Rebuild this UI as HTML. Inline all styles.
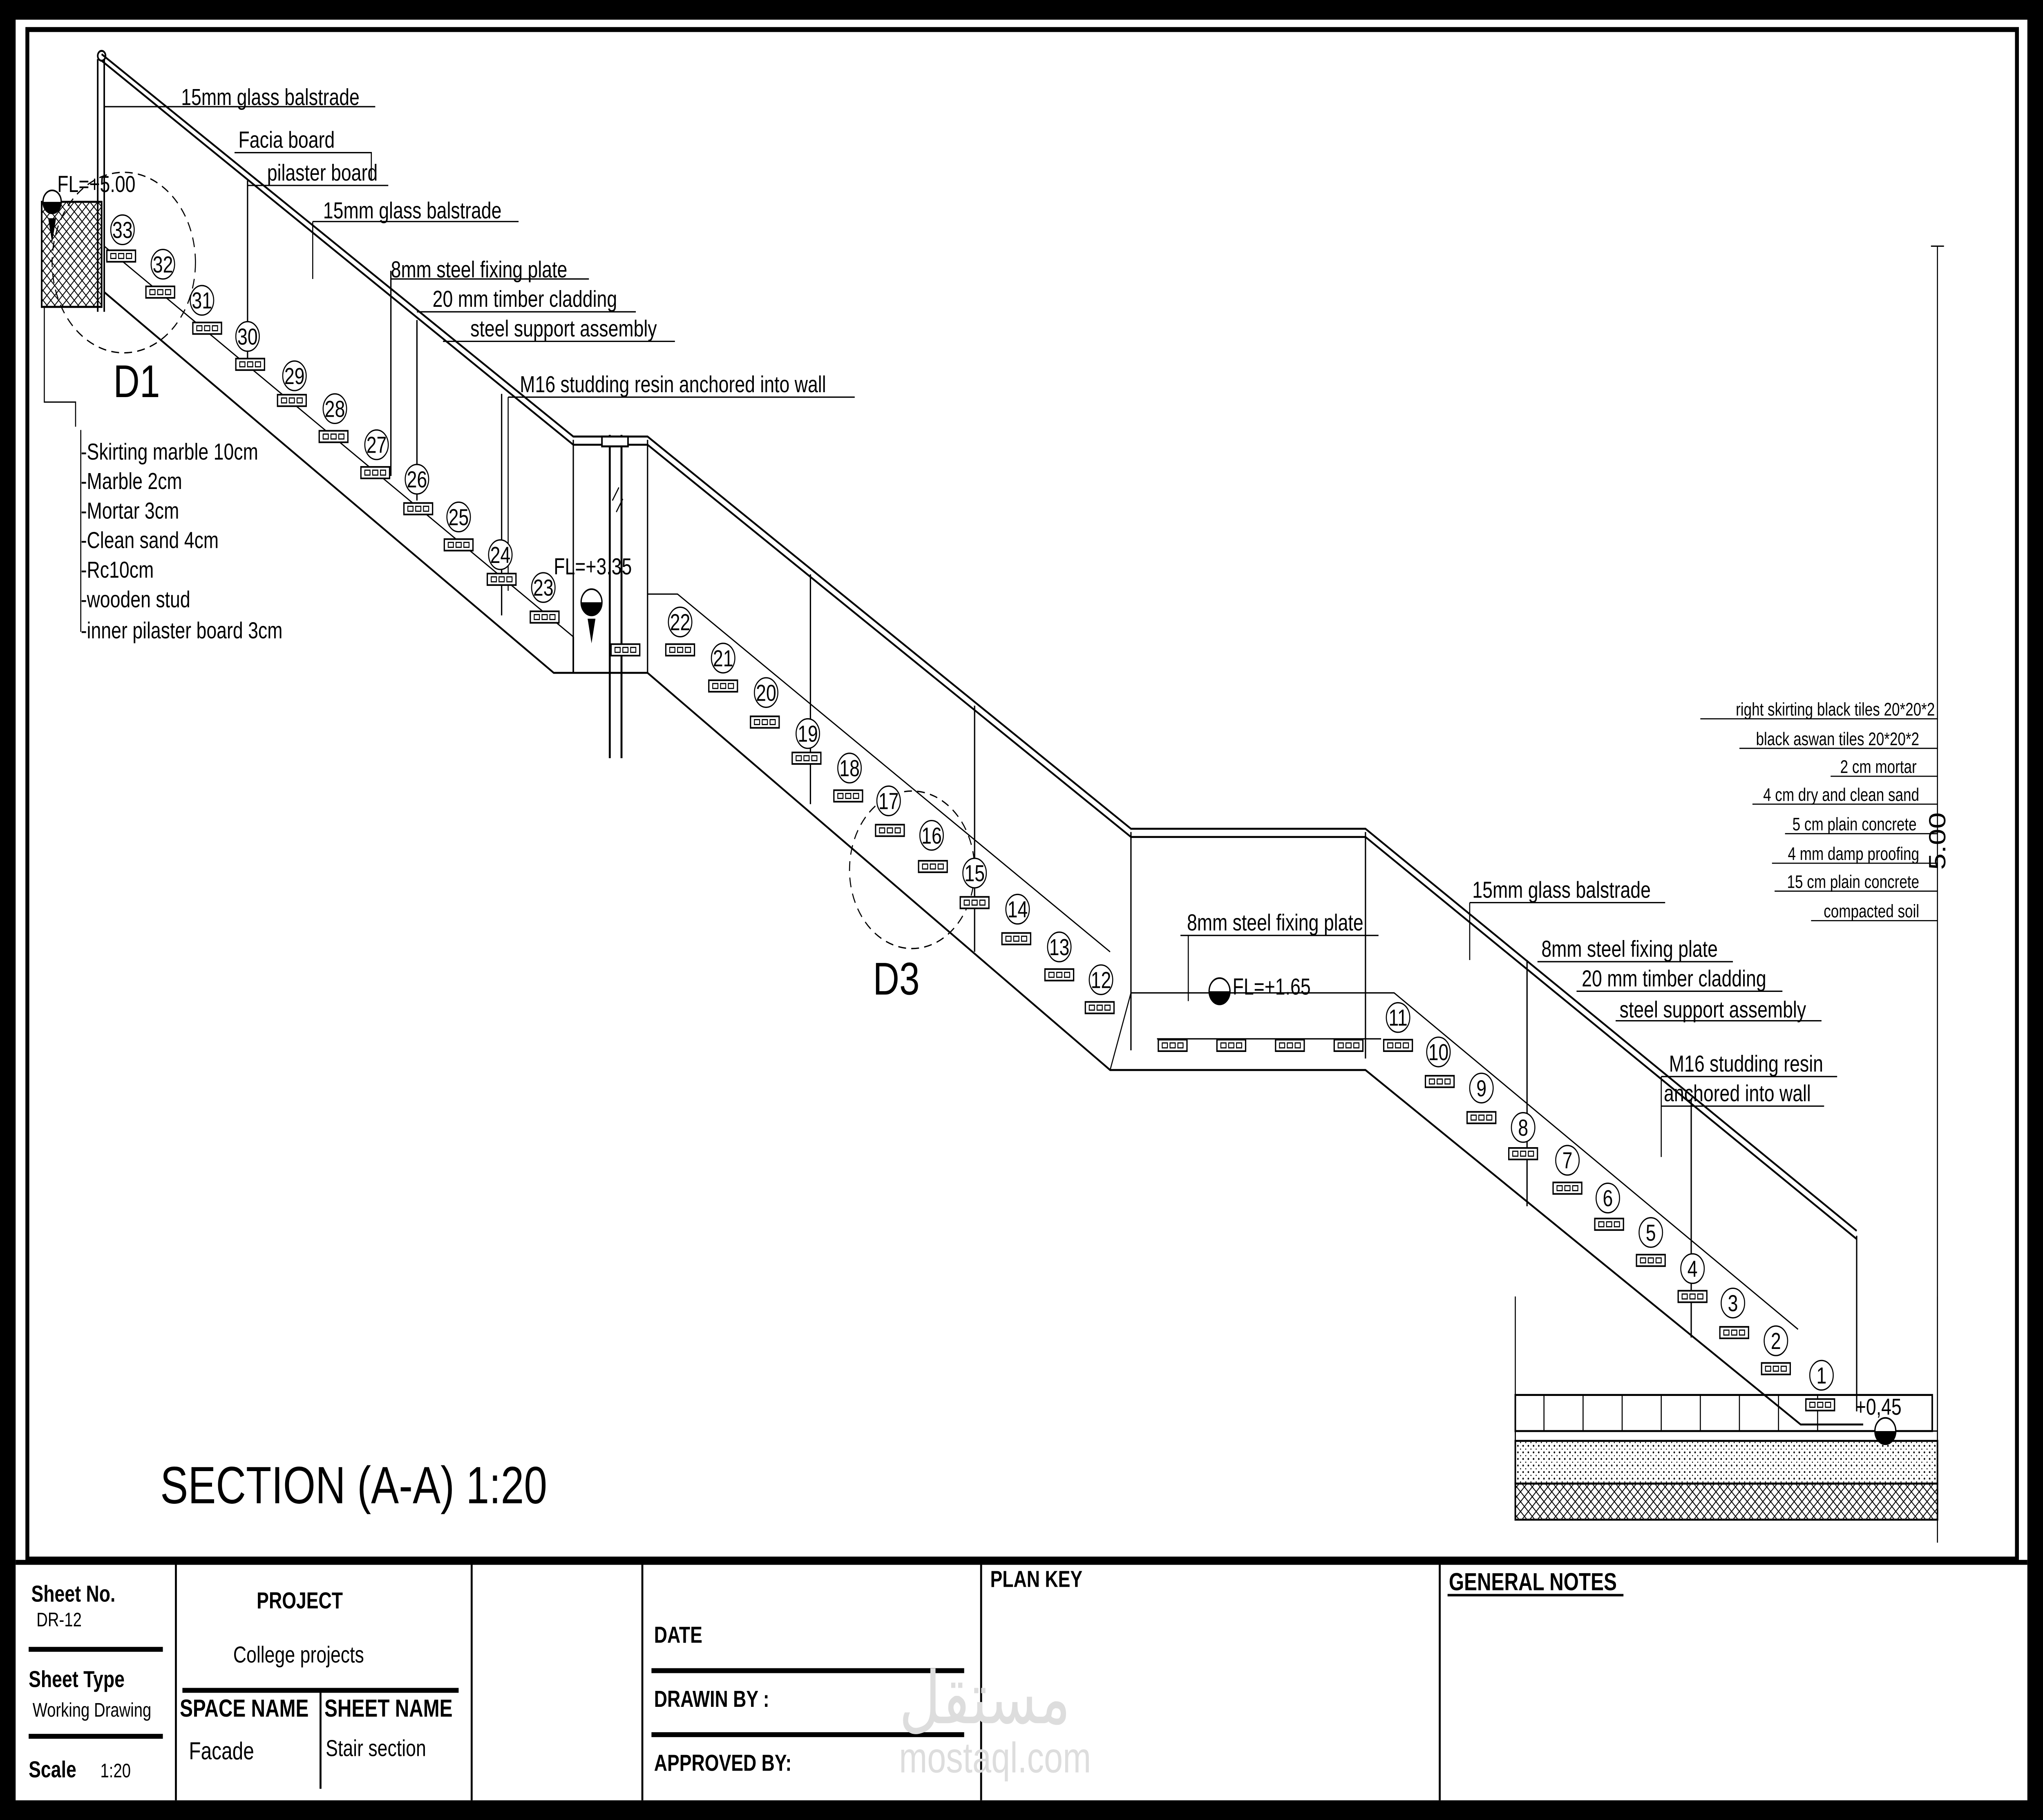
<!DOCTYPE html>
<html><head><meta charset="utf-8"><style>
html,body{margin:0;padding:0;background:#000;width:100%;height:100%;overflow:hidden}
svg{display:block;width:100vw;height:100vh}
text{font-family:"Liberation Sans",Arial,sans-serif;fill:#000}
</style></head><body>
<svg viewBox="0 0 1568 1109" preserveAspectRatio="none" xmlns="http://www.w3.org/2000/svg">
<defs>
<g id="pl"><rect x="-11" y="-3.5" width="22" height="7" fill="#fff" stroke="#000" stroke-width="1"/><rect x="-8" y="-1.5" width="4" height="3" fill="none" stroke="#000" stroke-width=".7"/><rect x="-2" y="-1.5" width="4" height="3" fill="none" stroke="#000" stroke-width=".7"/><rect x="4" y="-1.5" width="4" height="3" fill="none" stroke="#000" stroke-width=".7"/></g>
<pattern id="hatch" width="6" height="6" patternUnits="userSpaceOnUse"><path d="M0 6L6 0M0 0L6 6" stroke="#000" stroke-width=".6"/></pattern>
<pattern id="dots" width="4" height="4" patternUnits="userSpaceOnUse"><circle cx="1" cy="1" r=".6" fill="#000"/><circle cx="3" cy="3" r=".4" fill="#000"/></pattern>
</defs>
<rect x="0" y="0" width="1568" height="1109" fill="#000"/>
<rect x="12" y="12" width="1544" height="1085" fill="#fff"/>
<path d="M21 18V950H1548V18Z" fill="none" stroke="#000" stroke-width="3"/>
<line x1="12" y1="952" x2="1556" y2="952" stroke="#000" stroke-width="3"/>
<g stroke="#000" stroke-width="1.5" fill="none">
<line x1="135" y1="952" x2="135" y2="1097"/>
<line x1="362" y1="952" x2="362" y2="1097"/>
<line x1="493" y1="952" x2="493" y2="1097"/>
<line x1="753" y1="952" x2="753" y2="1097"/>
<line x1="1105" y1="952" x2="1105" y2="1097"/>
<line x1="22" y1="1005" x2="125" y2="1005" stroke-width="3"/>
<line x1="22" y1="1058" x2="125" y2="1058" stroke-width="3"/>
<line x1="140" y1="1030" x2="352" y2="1030" stroke-width="3"/>
<line x1="246" y1="1030" x2="246" y2="1090"/>
<line x1="500" y1="1018" x2="740" y2="1018" stroke-width="3"/>
<line x1="500" y1="1057" x2="740" y2="1057" stroke-width="3"/>
<line x1="1111" y1="972" x2="1246" y2="972"/>
</g>
<g font-size="14">
<text x="24" y="976" font-weight="bold">Sheet No.</text>
<text x="28" y="991" font-size="12">DR-12</text>
<text x="22" y="1028" font-weight="bold">Sheet Type</text>
<text x="25" y="1046" font-size="12">Working Drawing</text>
<text x="22" y="1083" font-weight="bold">Scale</text>
<text x="77" y="1083" font-size="12">1:20</text>
<text x="197" y="980" font-weight="bold">PROJECT</text>
<text x="179" y="1013">College projects</text>
<text x="138" y="1046" font-weight="bold" font-size="15">SPACE NAME</text>
<text x="249" y="1046" font-weight="bold" font-size="15">SHEET NAME</text>
<text x="145" y="1072" font-size="15">Facade</text>
<text x="250" y="1070">Stair section</text>
<text x="502" y="1001" font-weight="bold">DATE</text>
<text x="502" y="1040" font-weight="bold">DRAWIN BY :</text>
<text x="502" y="1079" font-weight="bold">APPROVED BY:</text>
<text x="760" y="967" font-weight="bold">PLAN KEY</text>
<text x="1112" y="969" font-weight="bold" font-size="15">GENERAL NOTES</text>
</g>
<text x="690" y="1050" font-size="44" style="fill:#ddd" font-family="Noto Sans CJK SC,sans-serif">مستقل</text>
<text x="690" y="1080" font-size="26" style="fill:#ddd">mostaql.com</text>

<text x="123" y="916" font-size="32">SECTION (A-A) 1:20</text>

<g stroke="#000" fill="none" stroke-width="1.2">
<path d="M78 33L440 266H497L868 505H1048L1425 750"/>
<path d="M78 37L440 271H497L868 510H1048L1425 755"/>
<circle cx="78" cy="34" r="3"/>
<line x1="75" y1="36" x2="75" y2="190"/>
<line x1="80" y1="36" x2="80" y2="190"/>
<path d="M80 150L440 388" stroke-width=".8"/>
<path d="M80 178L425 410H497L852 652H1048L1382 868H1430"/>
<path d="M440 388V410"/>
<path d="M852 652L868 605" stroke-width=".8"/>
<path d="M868 605H1070L1380 810" stroke-width=".8"/>
<path d="M497 362H520L852 580" stroke-width=".8"/>
<g stroke-width="1">
<line x1="190" y1="110" x2="190" y2="225"/>
<line x1="300" y1="165" x2="300" y2="290"/>
<line x1="320" y1="195" x2="320" y2="305"/>
<line x1="385" y1="240" x2="385" y2="375"/>
<line x1="440" y1="268" x2="440" y2="410"/>
<line x1="497" y1="268" x2="497" y2="410"/>
<line x1="622" y1="350" x2="622" y2="490"/>
<line x1="748" y1="430" x2="748" y2="580"/>
<line x1="868" y1="507" x2="868" y2="640"/>
<line x1="1048" y1="507" x2="1048" y2="645"/>
<line x1="1172" y1="585" x2="1172" y2="735"/>
<line x1="1298" y1="670" x2="1298" y2="815"/>
<line x1="1425" y1="753" x2="1425" y2="860"/>
</g>
<line x1="468" y1="265" x2="468" y2="462" stroke-width="1.5"/>
<line x1="477" y1="265" x2="477" y2="462" stroke-width="1.5"/>
<rect x="462" y="266" width="20" height="6" fill="#fff"/>
<path d="M470 305l5-8M473 312l5-8" stroke-width=".8"/>
<rect x="32" y="123" width="46" height="64" fill="url(#hatch)"/>
<rect x="32" y="123" width="46" height="64"/>
<path d="M34 187V245H58V260" stroke-width=".8"/>
<path d="M62 262V385" stroke-width=".8"/>
<circle cx="95" cy="160" r="55" stroke-dasharray="6 4" stroke-width=".8"/>
<circle cx="700" cy="530" r="48" stroke-dasharray="6 4" stroke-width=".8"/>
<g stroke-width=".8">
<path d="M80 65H288"/><path d="M180 93H285V110"/><path d="M190 113H298"/>
<path d="M240 135H398M240 135V170"/>
<path d="M300 170H452"/><path d="M320 190H488"/><path d="M340 208H518"/>
<path d="M390 242H656M390 242V360"/>
<path d="M906 570H1058M912 570V610"/>
<path d="M1128 550H1278M1128 550V585"/>
<path d="M1180 586H1330"/><path d="M1210 604H1368"/><path d="M1240 622H1398"/>
<path d="M1275 656H1410M1275 656V705"/><path d="M1275 674H1400"/>
</g>
<line x1="1487" y1="150" x2="1487" y2="940" stroke-width=".8"/>
<path d="M1482 150H1492" stroke-width=".8"/>
<g stroke-width=".7">
<path d="M1305 438H1487M1335 456H1487M1405 473H1487M1345 490H1487M1370 508H1487M1360 526H1487M1362 543H1487M1390 561H1487"/>
</g>
<path d="M1163 790V925M1487 790V925" stroke-width=".8"/>
<rect x="1163" y="850" width="320" height="22"/>
<path d="M1185 850v22M1215 850v22M1245 850v22M1275 850v22M1305 850v22M1335 850v22M1365 850v22M1395 850v22" stroke-width=".8"/>
<rect x="1163" y="872" width="324" height="6" stroke-width=".8"/>
<rect x="1163" y="878" width="324" height="26" fill="url(#dots)"/>
<rect x="1163" y="904" width="324" height="22" fill="url(#hatch)"/>
<line x1="1163" y1="904" x2="1487" y2="904"/>
</g>
<g>
<circle cx="40" cy="123" r="7" fill="#fff" stroke="#000"/><path d="M33 123A7 7 0 0 0 47 123Z" fill="#000"/><path d="M37 133L40 148L43 133Z" fill="#000"/>
<circle cx="454" cy="367" r="8" fill="#fff" stroke="#000"/><path d="M446 367A8 8 0 0 0 462 367Z" fill="#000"/><path d="M451 377L454 392L457 377Z" fill="#000"/>
<circle cx="936" cy="604" r="8" fill="#fff" stroke="#000"/><path d="M928 604A8 8 0 0 0 944 604Z" fill="#000"/>
<circle cx="1447" cy="872" r="8" fill="#fff" stroke="#000"/><path d="M1439 872A8 8 0 0 0 1455 872Z" fill="#000"/>
</g>
<g>
<use href="#pl" x="93" y="156"/><use href="#pl" x="123" y="178"/><use href="#pl" x="159" y="200"/><use href="#pl" x="192" y="222"/>
<use href="#pl" x="224" y="244"/><use href="#pl" x="256" y="266"/><use href="#pl" x="288" y="288"/><use href="#pl" x="321" y="310"/>
<use href="#pl" x="352" y="332"/><use href="#pl" x="385" y="353"/><use href="#pl" x="418" y="376"/><use href="#pl" x="480" y="396"/>
<use href="#pl" x="522" y="396"/><use href="#pl" x="555" y="418"/><use href="#pl" x="587" y="440"/><use href="#pl" x="619" y="462"/>
<use href="#pl" x="651" y="485"/><use href="#pl" x="683" y="506"/><use href="#pl" x="716" y="528"/><use href="#pl" x="748" y="550"/>
<use href="#pl" x="780" y="572"/><use href="#pl" x="813" y="594"/><use href="#pl" x="844" y="614"/>
<use href="#pl" x="900" y="637"/><use href="#pl" x="945" y="637"/><use href="#pl" x="990" y="637"/><use href="#pl" x="1035" y="637"/>
<use href="#pl" x="1073" y="637"/><use href="#pl" x="1105" y="659"/><use href="#pl" x="1137" y="681"/><use href="#pl" x="1169" y="703"/>
<use href="#pl" x="1203" y="724"/><use href="#pl" x="1235" y="746"/><use href="#pl" x="1267" y="768"/><use href="#pl" x="1299" y="790"/>
<use href="#pl" x="1331" y="812"/><use href="#pl" x="1363" y="834"/><use href="#pl" x="1397" y="856"/>
</g>
<line x1="888" y1="633" x2="1060" y2="633" stroke="#000" stroke-width=".8"/>
<g font-size="14" text-anchor="middle">
<g fill="#fff" stroke="#000" stroke-width=".8">
<circle cx="94" cy="140" r="9"/><circle cx="125" cy="161" r="9"/><circle cx="155" cy="183" r="9"/><circle cx="190" cy="205" r="9"/>
<circle cx="226" cy="229" r="9"/><circle cx="257" cy="249" r="9"/><circle cx="289" cy="271" r="9"/><circle cx="320" cy="292" r="9"/>
<circle cx="352" cy="315" r="9"/><circle cx="384" cy="338" r="9"/><circle cx="417" cy="358" r="9"/><circle cx="522" cy="379" r="9"/>
<circle cx="555" cy="401" r="9"/><circle cx="588" cy="422" r="9"/><circle cx="620" cy="447" r="9"/><circle cx="652" cy="468" r="9"/>
<circle cx="682" cy="488" r="9"/><circle cx="715" cy="509" r="9"/><circle cx="748" cy="532" r="9"/><circle cx="781" cy="554" r="9"/>
<circle cx="813" cy="577" r="9"/><circle cx="845" cy="597" r="9"/><circle cx="1073" cy="620" r="9"/><circle cx="1104" cy="641" r="9"/>
<circle cx="1137" cy="663" r="9"/><circle cx="1169" cy="687" r="9"/><circle cx="1203" cy="707" r="9"/><circle cx="1234" cy="730" r="9"/>
<circle cx="1267" cy="751" r="9"/><circle cx="1299" cy="773" r="9"/><circle cx="1330" cy="794" r="9"/><circle cx="1363" cy="817" r="9"/>
<circle cx="1398" cy="838" r="9"/>
</g>
<text x="94" y="145">33</text><text x="125" y="166">32</text><text x="155" y="188">31</text><text x="190" y="210">30</text>
<text x="226" y="234">29</text><text x="257" y="254">28</text><text x="289" y="276">27</text><text x="320" y="297">26</text>
<text x="352" y="320">25</text><text x="384" y="343">24</text><text x="417" y="363">23</text><text x="522" y="384">22</text>
<text x="555" y="406">21</text><text x="588" y="427">20</text><text x="620" y="452">19</text><text x="652" y="473">18</text>
<text x="682" y="493">17</text><text x="715" y="514">16</text><text x="748" y="537">15</text><text x="781" y="559">14</text>
<text x="813" y="582">13</text><text x="845" y="602">12</text><text x="1073" y="625">11</text><text x="1104" y="646">10</text>
<text x="1137" y="668">9</text><text x="1169" y="692">8</text><text x="1203" y="712">7</text><text x="1234" y="735">6</text>
<text x="1267" y="756">5</text><text x="1299" y="778">4</text><text x="1330" y="799">3</text><text x="1363" y="822">2</text>
<text x="1398" y="843">1</text>
</g>
<g font-size="14">
<text x="139" y="64">15mm glass balstrade</text>
<text x="183" y="90">Facia board</text>
<text x="205" y="110">pilaster board</text>
<text x="248" y="133">15mm glass balstrade</text>
<text x="300" y="169">8mm steel fixing plate</text>
<text x="332" y="187">20 mm timber cladding</text>
<text x="361" y="205">steel support assembly</text>
<text x="399" y="239">M16 studding resin anchored into wall</text>
<text x="44" y="117">FL=+5.00</text>
<text x="425" y="350">FL=+3.35</text>
<text x="946" y="606">FL=+1.65</text>
<text x="1424" y="862">+0,45</text>
<text x="87" y="242" font-size="28">D1</text>
<text x="670" y="606" font-size="28">D3</text>
<text x="62" y="280">-Skirting marble 10cm</text>
<text x="62" y="298">-Marble 2cm</text>
<text x="62" y="316">-Mortar 3cm</text>
<text x="62" y="334">-Clean sand 4cm</text>
<text x="62" y="352">-Rc10cm</text>
<text x="62" y="370">-wooden stud</text>
<text x="62" y="389">-inner pilaster board 3cm</text>
<text x="911" y="567">8mm steel fixing plate</text>
<text x="1130" y="547">15mm glass balstrade</text>
<text x="1183" y="583">8mm steel fixing plate</text>
<text x="1214" y="601">20 mm timber cladding</text>
<text x="1243" y="620">steel support assembly</text>
<text x="1281" y="653">M16 studding resin</text>
<text x="1277" y="671">anchored into wall</text>
</g>
<g font-size="11" text-anchor="end">
<text x="1485" y="436">right skirting black tiles 20*20*2</text>
<text x="1473" y="454">black aswan tiles 20*20*2</text>
<text x="1471" y="471">2 cm mortar</text>
<text x="1473" y="488">4 cm dry and clean sand</text>
<text x="1471" y="506">5 cm plain concrete</text>
<text x="1473" y="524">4 mm damp proofing</text>
<text x="1473" y="541">15 cm plain concrete</text>
<text x="1473" y="559">compacted soil</text>
</g>
<text x="1493" y="530" font-size="18" transform="rotate(-90 1493 530)">5.00</text>
</svg>
</body></html>
